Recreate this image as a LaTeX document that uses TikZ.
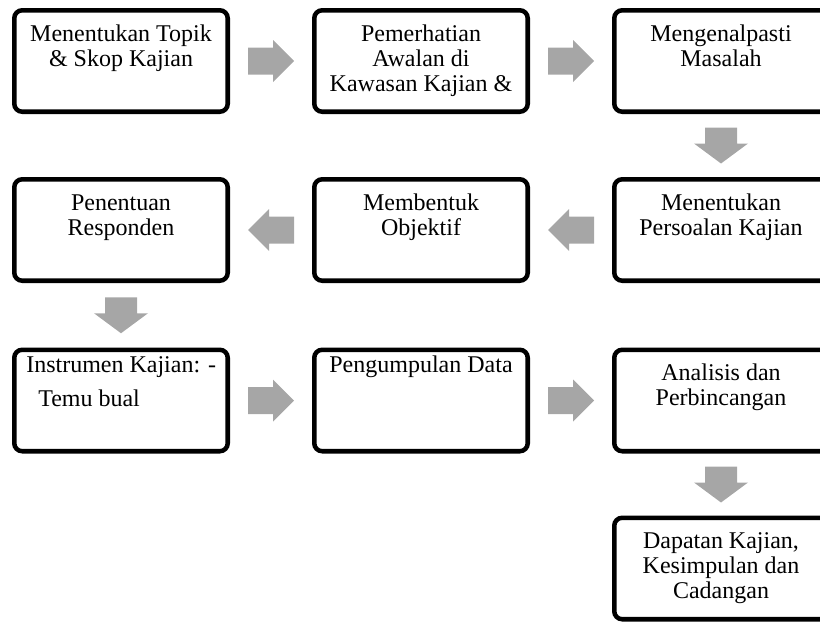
\documentclass[tikz,border=0pt]{standalone}
\usepackage{fontspec}
\setmainfont{Liberation Serif}
\usetikzlibrary{calc}
\definecolor{arrowgray}{RGB}{166,166,166}
\tikzset{
  box/.style={draw=black, line width=3.4pt, rounded corners=6pt,
    minimum width=160.1pt, minimum height=76.1pt, inner sep=0pt},
  boxtext/.style={anchor=base, align=center, inner sep=0pt,
    font=\fontsize{18}{18.75}\selectfont},
  lefttext/.style={anchor=base west, inner sep=0pt,
    font=\fontsize{18}{18.75}\selectfont},
  rarrow/.pic={\fill[arrowgray] (-23,-13.5) -- (2,-13.5) -- (2,-21) -- (23,0)
     -- (2,21) -- (2,13.5) -- (-23,13.5) -- cycle;},
  larrow/.pic={\fill[arrowgray] (23,-13.5) -- (-2,-13.5) -- (-2,-21) -- (-23,0)
     -- (-2,21) -- (-2,13.5) -- (23,13.5) -- cycle;},
  darrow/.pic={\fill[arrowgray] (-16,-18) -- (16,-18) -- (16,-2) -- (27,-2)
     -- (0,18) -- (-27,-2) -- (-16,-2) -- cycle;}
}
\begin{document}
\begin{tikzpicture}[x=0.75pt,y=-0.75pt]
\useasboundingbox (0,0) rectangle (820,621);
\clip (0,0) rectangle (820,621);
% boxes
\node[box] (b1) at (121,61) {};
\node[box] (b2) at (421,61) {};
\node[box] (b3) at (721,61) {};
\node[box] (b4) at (121,230) {};
\node[box] (b5) at (421,230) {};
\node[box] (b6) at (721,230) {};
\node[box] (b7) at (121,400.5) {};
\node[box] (b8) at (421,400.5) {};
\node[box] (b9) at (721,400.5) {};
\node[box] (b10) at (721,568.5) {};
% texts (base anchor = baseline of the last line; lines are 25px apart)
\node[boxtext] (t1) at ($(b1.north)+(0,58)$) {Menentukan Topik\\\& Skop Kajian};
\node[boxtext] (t2) at ($(b2.north)+(0,83)$) {Pemerhatian\\Awalan di\\Kawasan Kajian \&};
\node[boxtext] (t3) at ($(b3.north)+(0,58)$) {Mengenalpasti\\Masalah};
\node[boxtext] (t4) at ($(b4.north)+(0,58)$) {Penentuan\\Responden};
\node[boxtext] (t5) at ($(b5.north)+(0,58)$) {Membentuk\\Objektif};
\node[boxtext] (t6) at ($(b6.north)+(0,58)$) {Menentukan\\Persoalan Kajian};
\node[lefttext] (t7a) at ($(b7.north west)+(14,25)$) {Instrumen Kajian: -};
\node[lefttext] (t7b) at ($(b7.north west)+(26,58.5)$) {Temu bual};
\node[boxtext] (t8) at ($(b8.north)+(0,25)$) {Pengumpulan Data};
\node[boxtext] (t9) at ($(b9.north)+(0,58)$) {Analisis dan\\Perbincangan};
\node[boxtext] (t10) at ($(b10.north)+(0,83)$) {Dapatan Kajian,\\Kesimpulan dan\\Cadangan};
% block arrows
\pic at ($(b1.east)!0.5!(b2.west)$) {rarrow};
\pic at ($(b2.east)!0.5!(b3.west)$) {rarrow};
\pic at ($(b3.south)!0.5!(b6.north)$) {darrow};
\pic at ($(b6.west)!0.5!(b5.east)$) {larrow};
\pic at ($(b5.west)!0.5!(b4.east)$) {larrow};
\pic at ($(b4.south)!0.5!(b7.north)$) {darrow};
\pic at ($(b7.east)!0.5!(b8.west)$) {rarrow};
\pic at ($(b8.east)!0.5!(b9.west)$) {rarrow};
\pic at ($(b9.south)!0.5!(b10.north)$) {darrow};
\end{tikzpicture}
\end{document}
